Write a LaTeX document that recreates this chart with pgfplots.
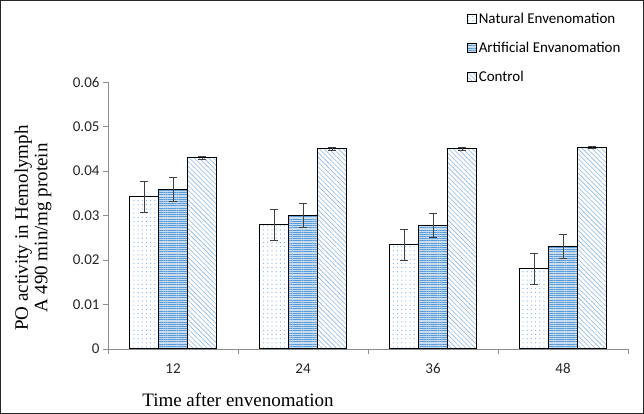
\documentclass[border=0pt]{standalone}
\usepackage{fontspec}
\setmainfont{Liberation Serif}
\newfontfamily\carlito{Carlito}
\usepackage{pgfplots}
\pgfplotsset{compat=1.18}
\usetikzlibrary{patterns.meta}
\definecolor{dotblue}{HTML}{5B9BD5}
\definecolor{lineblue}{HTML}{5B9BD5}
\definecolor{paleblue}{HTML}{C9DDF0}
\definecolor{hatchblue}{HTML}{8FB8E0}
\definecolor{axgray}{HTML}{8C8C8C}
\begin{document}
\begin{tikzpicture}
\useasboundingbox (0,0) rectangle (644bp,414bp);
\draw[black!85, line width=1bp] (0.5bp,0.5bp) rectangle (643.5bp,413.5bp);
\begin{axis}[
  at={(108bp,65bp)}, anchor=south west,
  scale only axis, width=520bp, height=267bp,
  ybar=0pt, bar width=29bp,
  xmin=-0.5, xmax=3.5, ymin=0, ymax=0.06,
  axis x line=bottom, axis y line=left,
  axis line style={-, axgray, line width=0.8bp},
  xtick={0,1,2,3}, xticklabels={12,24,36,48},
  minor xtick={-0.5,0.5,1.5,2.5,3.5},
  major x tick style={draw=none},
  minor x tick style={axgray, line width=0.8bp},
  minor tick length=5bp,
  ytick={0,0.01,0.02,0.03,0.04,0.05,0.06},
  y tick style={axgray, line width=0.8bp},
  major tick length=5bp,
  tick align=outside,
  yticklabel style={/pgf/number format/fixed, /pgf/number format/precision=2, /pgf/number format/assume math mode=true},
  scaled y ticks=false,
  tick label style={font=\carlito\fontsize{15bp}{16bp}\selectfont, text=black!85},
  xticklabel style={yshift=-6bp},
  ylabel={PO activity in Hemolymph\\A 490 min/mg protein},
  ylabel style={at={(axis description cs:-0.144,0.453)}, anchor=center, align=center, font=\fontsize{19bp}{19.5bp}\selectfont},
  xlabel={Time after envenomation},
  xlabel style={at={(axis description cs:0.25,0)}, anchor=center, yshift=-51bp, font=\fontsize{19bp}{22bp}\selectfont},
  legend style={at={(rel axis cs:0.69,1.265)}, anchor=north west, draw=none, fill=none,
    font=\carlito\fontsize{15bp}{17bp}\selectfont, row sep=13bp, inner sep=0pt,
    /tikz/every even column/.append style={column sep=5bp}},
  legend cell align=left,
  legend image code/.code={\draw[#1, line width=0.8bp, draw=black] (0bp,-4.5bp) rectangle (9bp,4.5bp);},
  error bars/y dir=both, error bars/y explicit,
  error bars/error bar style={line width=0.9bp, black!75},
  error bars/error mark options={rotate=90, mark size=4bp, line width=0.9bp, black!75},
]
\addplot[draw=black, line width=1.1bp, fill=white, postaction={pattern={Dots[distance=4.2pt, radius=0.6pt]}, pattern color=dotblue!80}]
  coordinates {(0,0.0342) +- (0,0.0035) (1,0.0279) +- (0,0.0035) (2,0.0234) +- (0,0.0035) (3,0.0180) +- (0,0.0034)};
\addplot[draw=black, line width=1.1bp, fill=paleblue, postaction={pattern={Lines[angle=0, distance=2.2pt, line width=0.7pt]}, pattern color=lineblue}]
  coordinates {(0,0.0359) +- (0,0.0027) (1,0.0300) +- (0,0.0027) (2,0.0278) +- (0,0.0027) (3,0.0231) +- (0,0.0027)};
\addplot[draw=black, line width=1.1bp, fill=white, postaction={pattern={Lines[angle=-45, distance=3.4pt, line width=0.6pt]}, pattern color=hatchblue}]
  coordinates {(0,0.0430) +- (0,0.0003) (1,0.0450) +- (0,0.0003) (2,0.0450) +- (0,0.0003) (3,0.0453) +- (0,0.0003)};
\legend{Natural Envenomation, Artificial Envanomation, Control}
\end{axis}
\end{tikzpicture}
\end{document}
